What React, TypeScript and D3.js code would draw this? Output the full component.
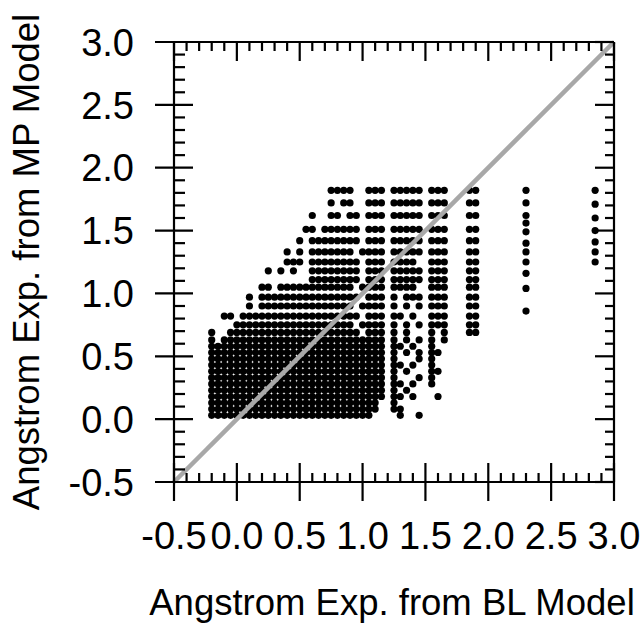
import React from "react";
import * as d3 from "d3";

const W = 642;
const H = 623;

const majorTicks = [-0.5, 0.0, 0.5, 1.0, 1.5, 2.0, 2.5, 3.0];
const tickLabels = ["-0.5", "0.0", "0.5", "1.0", "1.5", "2.0", "2.5", "3.0"];
const diagonal = [-0.5, 3.0];

const xTitle = "Angstrom Exp. from BL Model";
const yTitle = "Angstrom Exp. from MP Model";

// x positions of the point columns in the dense part (BL model)
const xLevels = [
  -0.25, -0.2, -0.15, -0.1, -0.05, 0.0, 0.05, 0.1, 0.15, 0.2,
  0.25, 0.3, 0.35, 0.4, 0.45, 0.5, 0.55, 0.6, 0.65, 0.7,
  0.75, 0.8, 0.85, 0.9, 0.95, 1.0, 1.05, 1.1, 1.15, 1.2,
  1.25, 1.3, 1.35, 1.4, 1.45, 1.5, 1.55, 1.6, 1.65, 1.7,
  1.75, 1.8, 1.85, 1.9,
];

// y positions of the point rows (MP model), top to bottom
const rowY = [
  1.82, 1.72, 1.62, 1.51, 1.42, 1.33, 1.25, 1.18, 1.11, 1.05,
  0.97, 0.9, 0.82, 0.75, 0.69,
  0.63, 0.58, 0.53, 0.48, 0.43, 0.38, 0.33, 0.28, 0.23, 0.18,
  0.13, 0.08, 0.03,
];

// occupancy of each row: '#' = a point at xLevels[index]
const rowPoints = [
  ".........." + ".........." + "####..###." + "#####.###." + "..##",
  ".........." + ".........." + "#.##..###." + "#####.###." + "..##",
  ".........." + ".......#.." + "##.##.###." + "#####.###." + "..##",
  ".........." + "......##.#" + "#####.###." + "#####.###." + "..##",
  ".........." + ".....#.###" + "#####.###." + "#####.###." + "..##",
  ".........." + "...#.#.###" + "####.####." + "#####.###." + "..##",
  ".........." + "...###.###" + "#####.###." + "####..###." + "..##",
  ".........." + "#.#.#..###" + "#####.###." + "#####.###." + "..##",
  ".........." + ".......###" + "#####.###." + "#####.###." + "..##",
  ".........#" + "#.########" + "####.####." + "####..###." + "..##",
  ".......#.#" + "##########" + "#####.###." + "#.###.###." + "..##",
  ".......#.#" + "##########" + "####.####." + "#.#.#.###." + "..##",
  "...##.####" + "##########" + "#####.###." + "##.#..###." + "..##",
  ".....#####" + "##########" + "####.####." + "#.#.#.###." + "..##",
  ".#..######" + "##########" + "#####.###." + "#.#...#.#." + "..##",
  ".#.#######" + "##########" + "#########." + "#.#.#.#.#.",
  ".#########" + "##########" + "#########." + "##.#..#...",
  ".#########" + "##########" + "#########." + "#.#.#.##..",
  ".#########" + "##########" + "#########." + "#...#.#...",
  ".#########" + "##########" + "#########." + "##.#..#...",
  ".#########" + "##########" + "#########." + "#.#...##..",
  ".#########" + "##########" + "#########." + "#...#.#...",
  ".#########" + "##########" + "#########." + "##.#..#...",
  ".#########" + "##########" + "#########." + "#.#.......",
  ".#########" + "##########" + "#########." + "##.#...#..",
  ".#########" + "##########" + "########.." + "#.........",
  ".#########" + "##########" + "########.." + "##........",
  ".#########" + "##########" + "#######..." + ".#..#.....",
];

// isolated columns on the right
const col230X = 2.3;
const col230Y = [1.82, 1.72, 1.62, 1.56, 1.49, 1.4, 1.33, 1.25, 1.16, 1.04, 0.86];
const col285X = 2.85;
const col285Y = [1.82, 1.71, 1.6, 1.5, 1.41, 1.33, 1.25];

const FONT = "'Liberation Sans', Arial, sans-serif";

export default function App() {
  const x = d3.scaleLinear().domain([-0.5, 3.0]).range([174, 614]);
  const y = d3.scaleLinear().domain([-0.5, 3.0]).range([482, 42]);
  const minor = x.ticks(35).filter((v) => !majorTicks.some((m) => Math.abs(m - v) < 1e-6));

  const points: { px: number; py: number }[] = [];
  rowPoints.forEach((row, j) => {
    for (let i = 0; i < row.length; i++) {
      if (row[i] === "#") points.push({ px: x(xLevels[i]), py: y(rowY[j]) });
    }
  });
  col230Y.forEach((v) => points.push({ px: x(col230X), py: y(v) }));
  col285Y.forEach((v) => points.push({ px: x(col285X), py: y(v) }));

  const line = d3
    .line<number>()
    .x((d) => x(d))
    .y((d) => y(d));

  const [x0, x1] = x.range();
  const [y0, y1] = y.range();
  const sw = 2.2;
  const minorLen = 9;
  const majorIn = 19;
  const majorOut = 19;

  return (
    <svg
      width={W}
      height={H}
      style={{ position: "absolute", left: 0, top: 0, background: "#fff" }}
      fontFamily={FONT}
    >
      <rect width={W} height={H} fill="#fff" />
      <g fill="#000">
        {points.map((p, k) => (
          <circle key={k} cx={p.px} cy={p.py} r={3.6} />
        ))}
      </g>
      <path d={line(diagonal) || ""} stroke="#a8a8a8" strokeWidth={4.5} fill="none" />
      <g stroke="#000" strokeWidth={sw} strokeLinecap="butt">
        <line x1={x0} x2={x1} y1={y1} y2={y1} />
        <line x1={x0} x2={x1} y1={y0} y2={y0} />
        <line x1={x0} x2={x0} y1={y0} y2={y1} />
        <line x1={x1} x2={x1} y1={y0} y2={y1} />
        {minor.map((v) => (
          <g key={"m" + v}>
            <line x1={x(v)} x2={x(v)} y1={y0} y2={y0 - minorLen} />
            <line x1={x(v)} x2={x(v)} y1={y1} y2={y1 + minorLen} />
            <line y1={y(v)} y2={y(v)} x1={x0} x2={x0 + minorLen + 2} />
            <line y1={y(v)} y2={y(v)} x1={x1} x2={x1 - minorLen} />
          </g>
        ))}
        {majorTicks.map((v) => (
          <g key={"M" + v}>
            <line x1={x(v)} x2={x(v)} y1={y0 + majorOut} y2={y0 - majorIn} />
            <line x1={x(v)} x2={x(v)} y1={y1} y2={y1 + majorIn} />
            <line y1={y(v)} y2={y(v)} x1={x0 - majorOut} x2={x0 + majorIn} />
            <line y1={y(v)} y2={y(v)} x1={x1} x2={x1 - majorIn} />
          </g>
        ))}
      </g>
      <g fontSize={38} fill="#000">
        {majorTicks.map((v, k) => (
          <text key={"xl" + v} x={x(v)} y={549} textAnchor="middle">
            {tickLabels[k]}
          </text>
        ))}
        {majorTicks.map((v, k) => (
          <text key={"yl" + v} x={134} y={y(v)} dy="0.36em" textAnchor="end">
            {tickLabels[k]}
          </text>
        ))}
      </g>
      <text x={392} y={615} fontSize={36.5} textAnchor="middle" fill="#000">
        {xTitle}
      </text>
      <text
        transform={`translate(39,262) rotate(-90)`}
        fontSize={36.5}
        textAnchor="middle"
        fill="#000"
      >
        {yTitle}
      </text>
    </svg>
  );
}
